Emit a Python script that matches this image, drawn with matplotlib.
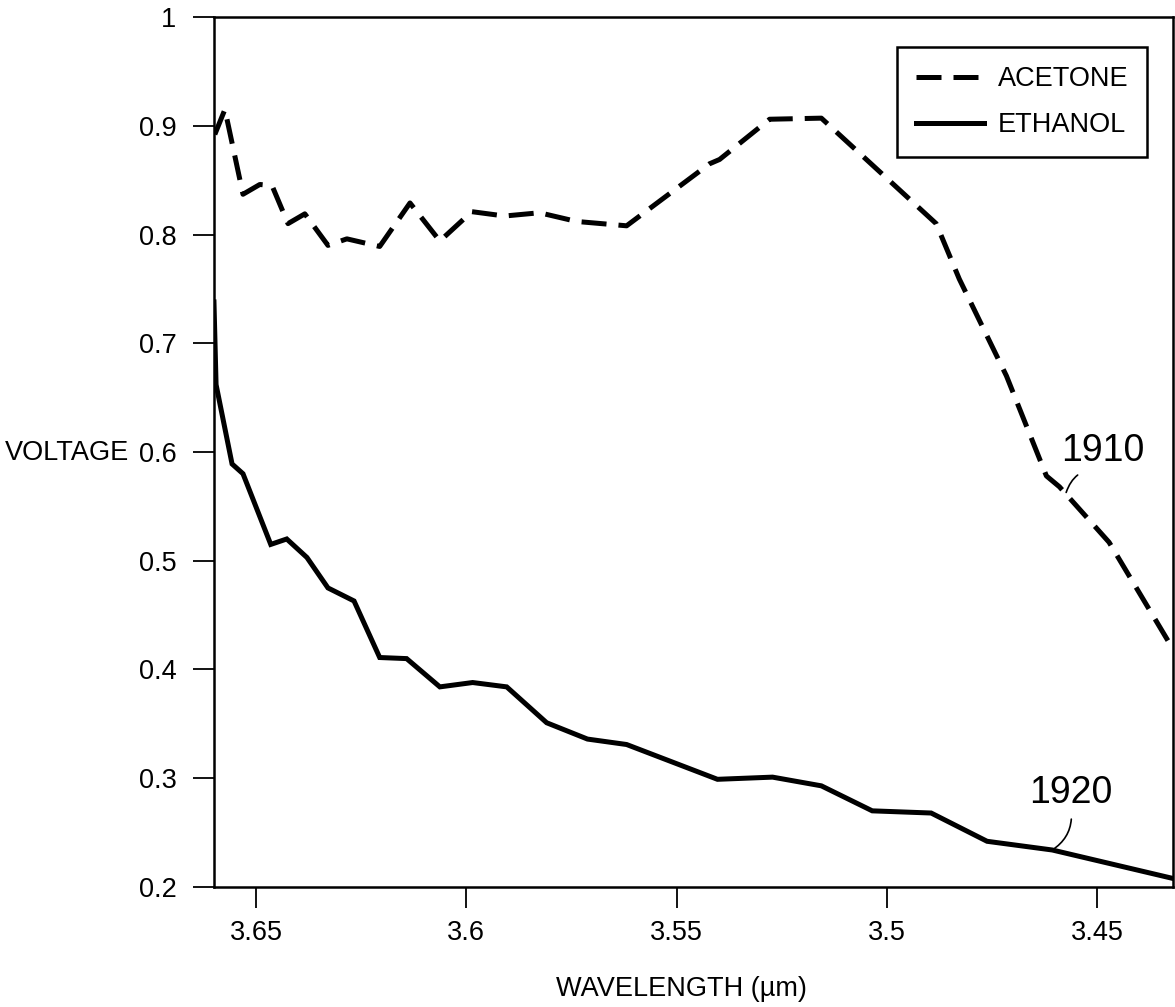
import matplotlib
matplotlib.use("Agg")
import matplotlib.pyplot as plt
from matplotlib.ticker import FuncFormatter

plt.rcParams['font.family'] = ['Liberation Sans Narrow', 'Liberation Sans', 'DejaVu Sans']

# 数据
acetone_wl = [3.6598, 3.6574, 3.6531, 3.6491, 3.6462, 3.6424, 3.6384, 3.6329,
              3.6284, 3.6206, 3.6134, 3.6063, 3.5987, 3.5909, 3.5826, 3.5738,
              3.5619, 3.5422, 3.5398, 3.5279, 3.5156, 3.4883, 3.4828, 3.4716,
              3.4621, 3.4590, 3.4472, 3.4322]
acetone_v = [0.892, 0.915, 0.837, 0.846, 0.845, 0.810, 0.819, 0.790,
             0.796, 0.789, 0.829, 0.794, 0.821, 0.817, 0.820, 0.812,
             0.808, 0.865, 0.869, 0.906, 0.907, 0.810, 0.759, 0.670,
             0.578, 0.568, 0.517, 0.420]

ethanol_wl = [3.6600, 3.6595, 3.6557, 3.6531, 3.6465, 3.6427, 3.6379, 3.6329,
              3.6267, 3.6206, 3.6142, 3.6063, 3.5985, 3.5904, 3.5809, 3.5712,
              3.5619, 3.5403, 3.5272, 3.5156, 3.5035, 3.4895, 3.4762, 3.4607,
              3.4322]
ethanol_v = [0.738, 0.662, 0.589, 0.580, 0.515, 0.520, 0.503, 0.475,
             0.463, 0.411, 0.410, 0.384, 0.388, 0.384, 0.351, 0.336,
             0.331, 0.299, 0.301, 0.293, 0.270, 0.268, 0.242, 0.234,
             0.208]

x_ticks = [3.65, 3.6, 3.55, 3.5, 3.45]
y_ticks = [0.2, 0.3, 0.4, 0.5, 0.6, 0.7, 0.8, 0.9, 1.0]

fig = plt.figure(figsize=(11.75, 10.07), dpi=100)
ax = fig.add_axes([0.1821, 0.1192, 0.8162, 0.8639])

# 曲线
ax.plot(acetone_wl, acetone_v, color='black', linewidth=3.6,
        dashes=(5, 2.4), label='ACETONE')
ax.plot(ethanol_wl, ethanol_v, color='black', linewidth=3.6,
        solid_joinstyle='miter', label='ETHANOL')

ax.set_xlim(3.660, 3.432)
ax.set_ylim(0.2, 1.0)
ax.set_xticks(x_ticks)
ax.set_yticks(y_ticks)
ax.xaxis.set_major_formatter(FuncFormatter(lambda v, p: '%g' % v))
ax.yaxis.set_major_formatter(FuncFormatter(lambda v, p: '%g' % v))

ax.tick_params(axis='both', direction='out', length=15, width=1.3,
               labelsize=19.5)
ax.tick_params(axis='x', pad=9)
ax.tick_params(axis='y', pad=12)
for s in ax.spines.values():
    s.set_linewidth(1.8)

ax.set_xlabel('WAVELENGTH (µm)', fontsize=19.5)
ax.xaxis.set_label_coords(0.487, -0.102)
fig.text(5 / 1175, 1 - 453 / 1007, 'VOLTAGE', fontsize=19.5,
         ha='left', va='center')

# 图例
leg = ax.legend(loc='upper right', bbox_to_anchor=(0.973, 0.9655),
                borderaxespad=0, fontsize=19.5, fancybox=False,
                edgecolor='black', handlelength=2.5, handletextpad=0.5,
                labelspacing=0.75, borderpad=0.7, framealpha=1)
leg.get_frame().set_linewidth(1.8)

# 标注
ax.annotate('1910', xy=(3.4574, 0.5628), xytext=(3.4488, 0.6006),
            fontsize=27, ha='center', va='center',
            arrowprops=dict(arrowstyle='-', color='black', lw=1.2,
                            connectionstyle='arc3,rad=0.4', relpos=(0.5, 0),
                            shrinkA=4, shrinkB=0))
ax.annotate('1920', xy=(3.4607, 0.234), xytext=(3.4562, 0.2866),
            fontsize=27, ha='center', va='center',
            arrowprops=dict(arrowstyle='-', color='black', lw=1.2,
                            connectionstyle='arc3,rad=-0.3', relpos=(0.5, 0),
                            shrinkA=4, shrinkB=0))

plt.savefig('out.png', dpi=100)
